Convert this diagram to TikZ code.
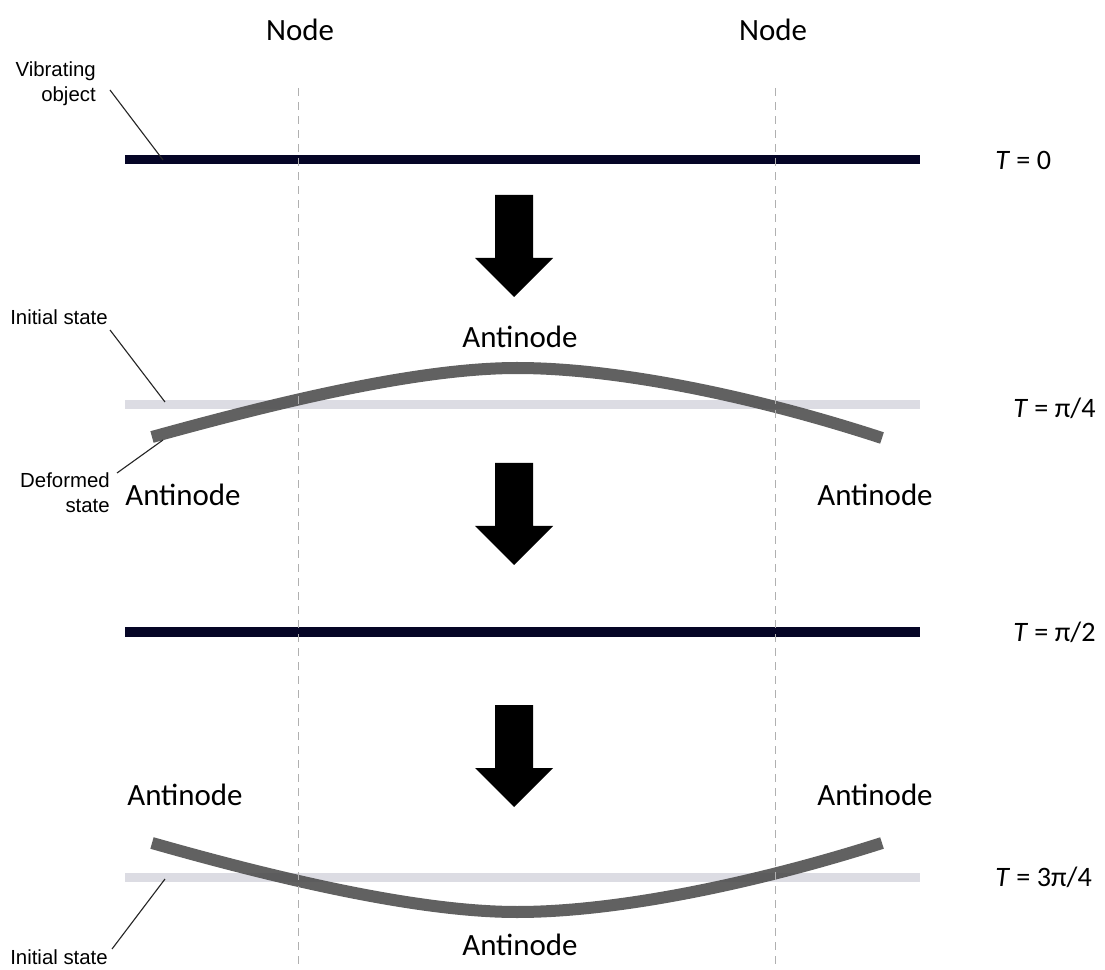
\documentclass[tikz,border=0pt]{standalone}
\usepackage{fontspec}
\setmainfont{Carlito}
\newfontfamily\calloutfont{Liberation Sans}
\usetikzlibrary{positioning}
\definecolor{cNavy}{HTML}{050526}
\definecolor{cInit}{HTML}{DCDCE3}
\definecolor{cDeform}{HTML}{4A4A4A}
\definecolor{cGuide}{HTML}{B0B0B0}
\tikzset{
  rigid/.style={line width=0.225cm, cNavy},
  initbar/.style={line width=0.225cm, cInit},
  deformed/.style={line width=0.3cm, cDeform, opacity=0.87},
  guide/.style={cGuide, line width=0.6pt, dash pattern=on 0.2cm off 0.15cm},
  leader/.style={line width=0.8pt, black!85},
  bigtext/.style={font=\fontsize{22}{26}\selectfont, inner sep=0pt},
  timetext/.style={font=\fontsize{20}{24}\selectfont, anchor=west, inner sep=0pt},
  callout/.style={font=\calloutfont\fontsize{14.5}{17.8}\selectfont, inner sep=0pt, align=right},
  pointer/.style={fill=black},
}

\begin{document}
\begin{tikzpicture}[x=0.025cm, y=-0.025cm]
  \useasboundingbox (0,0) rectangle (1105,970);

  % Initial states
  \draw[initbar] (125,405) -- (920,405);
  \draw[initbar] (125,877) -- (920,877);

  % Deformed states
  \draw[deformed] (152,437) .. controls (282,401) and (420,368) .. (517,368)
    .. controls (620,368) and (760,398) .. (882,438);
  \draw[deformed] (152,843) .. controls (282,880) and (420,912) .. (517,912)
    .. controls (620,912) and (760,882) .. (882,843);

  % Undeformed object
  \draw[rigid] (125,160) -- (920,160);
  \draw[rigid] (125,632) -- (920,632);

  % Node lines
  \node[bigtext] (nodeL) at (300,30) {Node};
  \node[bigtext] (nodeR) at (773,30) {Node};
  \coordinate (guideL) at (298,970);
  \coordinate (guideR) at (775,970);
  \draw[guide] (298,88) -- (guideL);
  \draw[guide] (775,88) -- (guideR);

  % Time steps
  \foreach \ytop in {195,463,705}
    \fill[pointer] (495,\ytop) -- (533,\ytop) -- (533,\ytop+63) -- (553,\ytop+63)
      -- (514,\ytop+102) -- (475,\ytop+63) -- (495,\ytop+63) -- cycle;

  \node[timetext] (t0)  at (995,160)  {\textit{T} = 0};
  \node[timetext] (t1)  at (1013,408) {\textit{T} = π/4};
  \node[timetext] (t2)  at (1013,632) {\textit{T} = π/2};
  \node[timetext] (t3)  at (995,877)  {\textit{T} = 3π/4};

  % Antinodes
  \node[bigtext] (anti1)  at (520,337) {Antinode};
  \node[bigtext] (anti1L) at (183,495) {Antinode};
  \node[bigtext] (anti1R) at (875,495) {Antinode};
  \node[bigtext] (anti3L) at (185,795) {Antinode};
  \node[bigtext] (anti3R) at (875,795) {Antinode};
  \node[bigtext] (anti3)  at (520,945) {Antinode};

  % Callouts
  \node[callout, anchor=east] (vib) at (96,84) {Vibrating\\object};
  \coordinate (vibpt) at (163,160);
  \draw[leader] ([shift={(14,6)}]vib.east) -- (vibpt);

  \node[callout, anchor=west] (init1) at (10,317) {Initial state};
  \coordinate (init1pt) at (165,402);
  \draw[leader] ([shift={(2,13)}]init1.east) -- (init1pt);

  \node[callout, anchor=east] (deform) at (110,493) {Deformed\\state};
  \coordinate (deformpt) at (163,440);
  \draw[leader] ([shift={(7,-20)}]deform.east) -- (deformpt);

  \node[callout, anchor=west] (init3) at (10,957) {Initial state};
  \coordinate (init3pt) at (165,879);
  \draw[leader] ([shift={(4,-8)}]init3.east) -- (init3pt);

\end{tikzpicture}
\end{document}
